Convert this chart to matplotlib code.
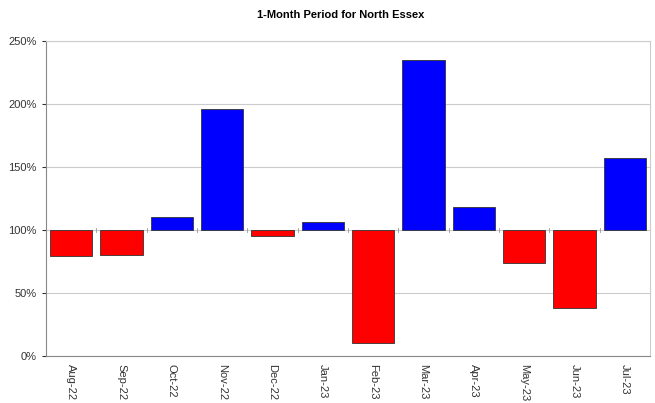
import matplotlib
matplotlib.use('Agg')
import matplotlib.pyplot as plt
import numpy as np

months = ['Aug-22', 'Sep-22', 'Oct-22', 'Nov-22', 'Dec-22', 'Jan-23',
          'Feb-23', 'Mar-23', 'Apr-23', 'May-23', 'Jun-23', 'Jul-23']
values = [79, 80, 110, 196, 95.5, 106, 10, 235, 118.5, 74, 38, 157]
baseline = 100
yticks = [0, 50, 100, 150, 200, 250]

plt.rcParams['font.family'] = ['Liberation Sans', 'DejaVu Sans']

fig = plt.figure(figsize=(6.55, 4.03), dpi=100)
ax = fig.add_axes([0.0702, 0.1166, 0.922, 0.7816])

x = np.arange(len(months))
vals = np.array(values)
colors = ['#0000ff' if v >= baseline else '#ff0000' for v in vals]
ax.bar(x, vals - baseline, bottom=baseline, width=0.84, color=colors,
       edgecolor='#333333', linewidth=0.6, zorder=3)

ax.set_xlim(-0.5, len(months) - 0.5)
ax.set_ylim(0, 250)
ax.set_yticks(yticks)
ax.set_yticklabels(['%d%%' % t for t in yticks])
ax.set_xticks(x)
ax.set_xticklabels(months, rotation=-90)
ax.grid(axis='y', color='#cccccc', linewidth=0.8, zorder=0)

# small category ticks on the 100% axis line
for b in np.arange(0.5, len(months) - 0.5):
    ax.plot([b, b], [baseline - 1.5, baseline + 1.5], color='#999999', lw=0.6, zorder=2)

for s in ['top', 'right']:
    ax.spines[s].set_color('#cccccc')
for s in ['left', 'bottom']:
    ax.spines[s].set_color('#888888')
ax.tick_params(axis='both', labelsize=8, colors='#333333', length=3)
ax.tick_params(axis='x', length=0, pad=6)

fig.text(0.52, 0.962, '1-Month Period for North Essex', ha='center', va='center',
         fontsize=8, fontweight='bold')

plt.savefig('out.png', dpi=100)
